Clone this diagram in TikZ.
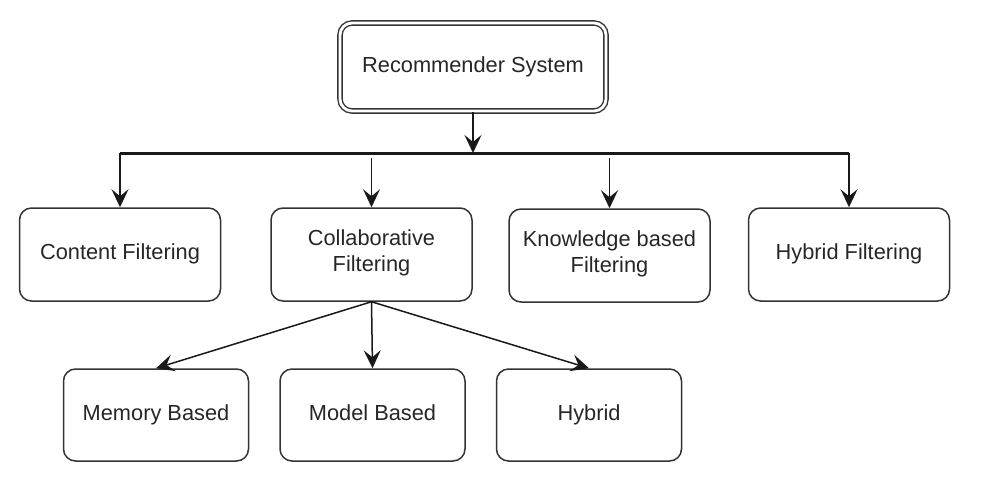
\documentclass[tikz,border=0pt]{standalone}
\usepackage{fontspec}
\setmainfont{Liberation Sans}
\usetikzlibrary{arrows.meta}
\begin{document}
\begin{tikzpicture}[x=0.5pt,y=-0.5pt,
    font=\fontsize{10.9}{13}\selectfont,
    box/.style={draw=black!80,line width=0.75pt,rounded corners=6pt,align=center,
      minimum width=100.5pt,minimum height=46.5pt,text=black!85,
      execute at begin node=\strut},
    subbox/.style={box,minimum width=92.5pt,minimum height=46pt},
    topbox/.style={box,double,double distance=1.4pt,line width=0.7pt,
      minimum width=133pt,minimum height=44pt},
    arr/.style={draw=black!90,line width=0.75pt,-{Stealth[length=9pt,width=8.5pt,inset=3.5pt]}}]
  \useasboundingbox (0,0) rectangle (994,482);
  \node[topbox] (rs) at (473,67) {Recommender System};
  \node[box] (cf) at (120,254.5) {Content Filtering};
  \node[box] (col) at (371.5,254.5) {Collaborative\\Filtering};
  \node[box] (kb) at (609.5,255.5) {Knowledge based\\Filtering};
  \node[box] (hf) at (849,254.5) {Hybrid Filtering};
  \node[subbox] (mem) at (156,415) {Memory Based};
  \node[subbox] (mod) at (372.5,415) {Model Based};
  \node[subbox] (hyb) at (589,415) {Hybrid};
  % bus line
  \coordinate (busL) at (cf.north |- 0,153);
  \coordinate (busR) at (hf.north |- 0,153);
  \draw[line width=1.5pt,draw=black!90] (busL) -- (busR);
  \draw[arr] (rs) -- (rs.south |- busL);
  \draw[arr] (busL) -- (cf.north);
  \draw[arr] (col.north |- 0,158) -- (col.north);
  \draw[arr] (kb.north |- 0,158) -- (kb.north);
  \draw[arr] (busR) -- (hf.north);
  % collaborative filtering kinds
  \draw[arr] (col.south) -- (mem.north);
  \draw[arr] (col.south) -- (mod.north);
  \draw[arr] (col.south) -- (hyb.north);
\end{tikzpicture}
\end{document}
